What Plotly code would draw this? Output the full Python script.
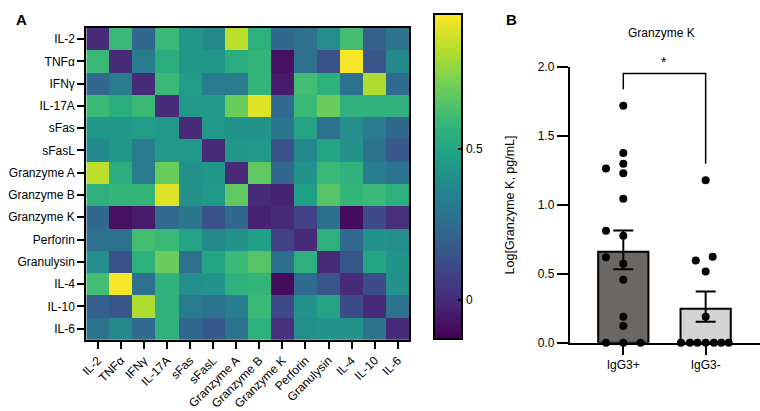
import plotly.graph_objects as go

# ---------------- Panel A data ----------------
markers = ["IL-2", "TNFα", "IFNγ", "IL-17A", "sFas", "sFasL", "Granzyme A",
           "Granzyme B", "Granzyme K", "Perforin", "Granulysin", "IL-4", "IL-10", "IL-6"]
D = 0.0
corr = [
    [D, 0.60, 0.23, 0.60, 0.44, 0.38, 0.84, 0.55, 0.23, 0.27, 0.40, 0.62, 0.20, 0.28],
    [0.60, D, 0.32, 0.54, 0.44, 0.44, 0.54, 0.58, -0.08, 0.27, 0.14, 0.94, 0.16, 0.38],
    [0.23, 0.32, D, 0.60, 0.46, 0.32, 0.32, 0.58, -0.05, 0.62, 0.55, 0.27, 0.82, 0.24],
    [0.60, 0.54, 0.60, D, 0.45, 0.45, 0.70, 0.90, 0.24, 0.60, 0.70, 0.56, 0.56, 0.56],
    [0.44, 0.44, 0.46, 0.45, D, 0.45, 0.42, 0.42, 0.30, 0.50, 0.27, 0.40, 0.32, 0.23],
    [0.38, 0.44, 0.32, 0.45, 0.45, D, 0.44, 0.45, 0.14, 0.38, 0.50, 0.42, 0.28, 0.17],
    [0.84, 0.54, 0.32, 0.70, 0.42, 0.44, D, 0.68, 0.23, 0.42, 0.60, 0.56, 0.33, 0.28],
    [0.55, 0.58, 0.58, 0.90, 0.42, 0.45, 0.68, D, -0.03, 0.48, 0.66, 0.58, 0.60, 0.55],
    [0.23, -0.08, -0.05, 0.24, 0.30, 0.14, 0.23, -0.03, D, 0.08, 0.26, -0.10, 0.12, 0.02],
    [0.27, 0.27, 0.62, 0.60, 0.50, 0.38, 0.42, 0.48, 0.08, D, 0.55, 0.24, 0.42, 0.40],
    [0.40, 0.14, 0.55, 0.70, 0.27, 0.50, 0.60, 0.66, 0.26, 0.55, D, 0.16, 0.50, 0.43],
    [0.62, 0.94, 0.27, 0.56, 0.40, 0.42, 0.56, 0.58, -0.10, 0.24, 0.16, D, 0.12, 0.42],
    [0.20, 0.16, 0.82, 0.56, 0.32, 0.28, 0.33, 0.60, 0.12, 0.42, 0.50, 0.12, D, 0.28],
    [0.28, 0.38, 0.24, 0.56, 0.23, 0.17, 0.28, 0.55, 0.02, 0.40, 0.43, 0.42, 0.28, D],
]
zmin, zmax = -0.13, 0.95
cbar_ticks = [0, 0.5]

# ---------------- Panel B data ----------------
groups = ["IgG3+", "IgG3-"]
group_mean = [0.66, 0.246]
sem_plus = [0.155, 0.125]
sem_minus = [0.127, 0.095]
pos_values = [1.72, 1.378, 1.30, 1.23, 1.264, 1.044, 0.812, 0.777, 0.62, 0.573,
              0.457, 0.188, 0.12, 0.0, 0.0, 0.0]
pos_jitter = [0, 0, 0, 0, -0.21, 0, -0.21, 0, -0.21, 0, 0, 0, 0, -0.21, 0, 0.21]
neg_values = [1.18, 0.596, 0.624, 0.517, 0.188, 0, 0, 0, 0, 0, 0, 0]
neg_jitter = [0, -0.12, 0.085, 0, 0, -0.30, -0.19, -0.10, 0, 0.10, 0.19, 0.28]

FONT = "Arial, Liberation Sans, Helvetica, sans-serif"
W, H = 760, 411

def px(x):
    return x / W

def py(y):
    return 1 - y / H

fig = go.Figure()

# heatmap
cb_bottom, cb_len = 347, 325
cb_left = 433
fig.add_trace(go.Heatmap(
    z=corr, x=markers, y=markers, colorscale="Viridis", zmin=zmin, zmax=zmax,
    xaxis="x", yaxis="y", xgap=0, ygap=0,
    colorbar=dict(
        x=px(cb_left - 2), xanchor="left", xpad=0, y=py(cb_bottom), yanchor="bottom", ypad=0,
        thickness=28, thicknessmode="pixels", len=cb_len, lenmode="pixels",
        outlinewidth=2, outlinecolor="black",
        tickvals=cbar_ticks, ticktext=["0", "0.5"], ticks="inside", ticklen=5,
        tickwidth=2, tickcolor="black",
        tickfont=dict(family=FONT, size=12, color="black"),
    ),
))

# bars
fig.add_trace(go.Bar(
    x=[0, 1], y=group_mean, width=0.61, xaxis="x2", yaxis="y2",
    marker=dict(color=["#6b6765", "#d4d4d4"], line=dict(color="black", width=2)),
    error_y=dict(type="data", symmetric=False, array=sem_plus, arrayminus=sem_minus,
                 color="black", thickness=2, width=10),
    showlegend=False,
))
fig.add_trace(go.Scatter(
    x=[0 + j for j in pos_jitter] + [1 + j for j in neg_jitter],
    y=pos_values + neg_values, mode="markers", xaxis="x2", yaxis="y2",
    marker=dict(color="black", size=8), showlegend=False, cliponaxis=False,
))

axis_common = dict(showgrid=False, zeroline=False, linecolor="black", linewidth=2,
                   ticks="outside", tickcolor="black", tickwidth=2,
                   tickfont=dict(family=FONT, size=12, color="black"))

shapes = []
# left-side colorbar tick marks
for v in cbar_ticks:
    yy = py(cb_bottom) + (v - zmin) / (zmax - zmin) * cb_len / H
    shapes.append(dict(type="line", xref="paper", yref="paper",
                       x0=px(cb_left), x1=px(cb_left + 5), y0=yy, y1=yy,
                       line=dict(color="black", width=2), layer="above"))
# significance bracket
br_top, br_left, br_right = 1.955, 1.84, 1.30
shapes.append(dict(type="path", xref="x2", yref="y2",
                   path=f"M 0,{br_left} L 0,{br_top} L 1,{br_top} L 1,{br_right}",
                   line=dict(color="black", width=1.5)))

fig.update_layout(
    width=W, height=H, margin=dict(l=0, r=0, t=0, b=0),
    paper_bgcolor="white", plot_bgcolor="white",
    font=dict(family=FONT, size=12, color="black"),
    xaxis=dict(axis_common, domain=[px(80), px(406)], anchor="y", mirror=True,
               tickangle=-45, ticklen=7),
    yaxis=dict(axis_common, domain=[py(348), py(22)], anchor="x", mirror=True,
               autorange="reversed", ticklen=7),
    xaxis2=dict(axis_common, domain=[px(568), 1.0], anchor="y2", range=[-0.65, 1.66],
                tickvals=[0, 1], ticktext=groups, ticklen=10),
    yaxis2=dict(axis_common, domain=[py(351), py(63)], anchor="x2", range=[0, 2.0],
                tickvals=[0, 0.5, 1.0, 1.5, 2.0], tickformat=".1f", ticklen=11,
                title=dict(text="Log[Granzyme K, pg/mL]", standoff=20,
                           font=dict(family=FONT, size=12.5, color="black"))),
    shapes=shapes,
    annotations=[
        dict(text="<b>A</b>", x=px(7), y=py(2), xref="paper", yref="paper",
             xanchor="left", yanchor="top", showarrow=False,
             font=dict(family=FONT, size=15, color="black")),
        dict(text="<b>B</b>", x=px(502), y=py(2), xref="paper", yref="paper",
             xanchor="left", yanchor="top", showarrow=False,
             font=dict(family=FONT, size=15, color="black")),
        dict(text="Granzyme K", x=px(661), y=py(27), xref="paper", yref="paper",
             xanchor="center", yanchor="middle", showarrow=False,
             font=dict(family=FONT, size=12, color="black")),
        dict(text="*", x=0.5, y=br_top, xref="x2", yref="y2", yanchor="bottom",
             yshift=1, showarrow=False, font=dict(family=FONT, size=14, color="black")),
    ],
)

fig.write_html("out.html", config={"displayModeBar": False},
               post_script="document.body.style.margin='0px';")
